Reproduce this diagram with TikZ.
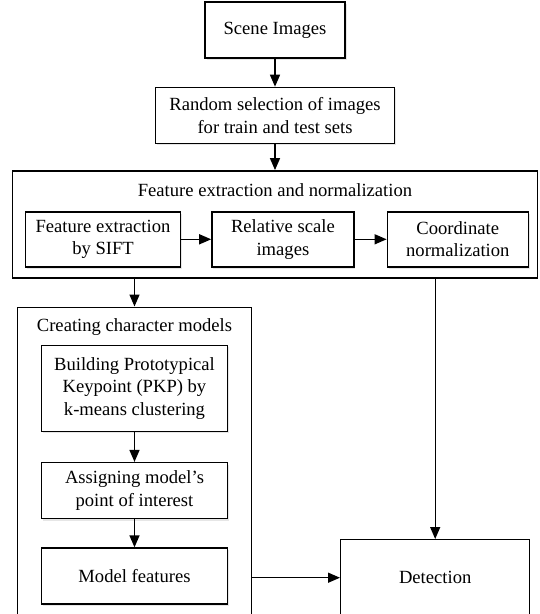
\documentclass[tikz,border=0pt]{standalone}
\usepackage{fontspec}
\setmainfont{Liberation Serif}
\usetikzlibrary{positioning}
\usetikzlibrary{arrows.meta}
\usetikzlibrary{shadows}

\begin{document}
\begin{tikzpicture}[x=1pt, y=1pt, line width=1.4pt, font=\fontsize{18.6}{22.5}\selectfont,
    box/.style={draw, align=center, inner sep=2pt, fill=white, drop shadow={shadow xshift=1.5pt, shadow yshift=-2pt, opacity=0.2}},
    frame/.style={draw, align=center},
    >={Triangle[length=12pt, width=10pt]}]

    \useasboundingbox (0,0) rectangle (540,-614);

    \node(scene)[box, minimum width=140pt, minimum height=56pt] at (275,-30){Scene Images};
    \node(random)[box, minimum width=239pt, minimum height=56pt, below=28pt of scene]{Random selection of images\\for train and test sets};

    \node(fe)[frame, minimum width=525pt, minimum height=107pt, below=26pt of random]{};
    \node(fetitle)[below=13pt of fe.north, inner sep=0pt]{Feature extraction and normalization};
    \node(sift)[box, minimum width=155pt, minimum height=55pt, below right=41pt and 13pt of fe.north west]{Feature extraction\\by SIFT};
    \node(scale)[box, minimum width=142pt, minimum height=55pt, right=30pt of sift]{Relative scale\\images};
    \node(coord)[box, minimum width=141pt, minimum height=55pt, right=32pt of scale]{Coordinate\\normalization};

    \node(creating)[frame, minimum width=234pt, minimum height=314pt, below right=28pt and 5pt of fe.south west]{};
    \node(ctitle)[below=11pt of creating.north, inner sep=0pt]{Creating character models};
    \node(build)[box, minimum width=186pt, minimum height=86pt, below=38pt of creating.north]{Building Prototypical\\Keypoint (PKP) by\\k-means clustering};
    \node(assign)[box, minimum width=186pt, minimum height=56pt, below=30pt of build]{Assigning model's\\point of interest};
    \node(model)[box, minimum width=186pt, minimum height=56pt, below=28pt of assign]{Model features};

    \node(det)[frame, minimum width=189pt, minimum height=76pt, anchor=north west] at (340,-539){Detection};

    \draw[->] (scene) -- (random);
    \draw[->] (random) -- (fe);
    \draw[->] (sift) -- (scale);
    \draw[->] (scale) -- (coord);
    \draw[->] (fe.south -| build) -- (creating.north -| build);
    \draw[->] (build) -- (assign);
    \draw[->] (assign) -- (model);
    \draw[->] (creating.east |- det) -- (det);
    \draw[->] (fe.south -| det) -- (det);

\end{tikzpicture}
\end{document}
